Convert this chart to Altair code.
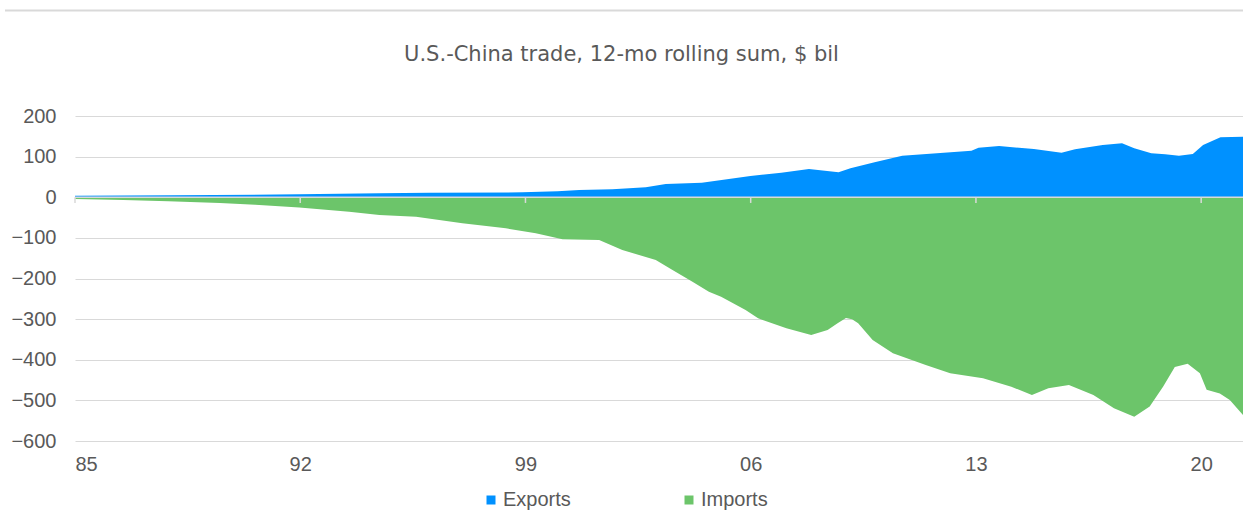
import altair as alt
import pandas as pd

TITLE = "U.S.-China trade, 12-mo rolling sum, $ bil"
SERIES = ["Exports", "Imports"]
BLUE = "#0091FF"
GREEN = "#6CC56A"
TEXT = "#595959"
GRID = "#D9D9D9"

# 12-month rolling sums, $ bil (decimal year on the axis scale)
export_t = [1985.0, 1988.0, 1991.97, 1994.46, 1996.0, 1998.91, 2000.0, 2000.67,
            2001.7, 2002.74, 2003.36, 2004.48, 2005.99, 2006.95, 2007.81, 2008.73,
            2009.1, 2009.85, 2010.71, 2012.0, 2012.86, 2013.08, 2013.72, 2014.8,
            2015.66, 2016.08, 2016.94, 2017.54, 2017.92, 2018.45, 2018.88, 2019.31,
            2019.74, 2020.06, 2020.6, 2021.3]
export_v = [3.8, 5.0, 7.2, 9.7, 11.0, 12.1, 15.0, 17.8,
            20.0, 24.5, 32.6, 35.9, 52.3, 60.5, 69.5, 61.3,
            71.2, 86.0, 102.3, 109.7, 114.6, 122.0, 126.1, 118.8,
            109.7, 118.0, 128.6, 132.8, 120.5, 108.2, 105.7, 102.3,
            106.5, 128.6, 147.5, 149.0]

import_t = [1985.0, 1986.5, 1987.9, 1989.5, 1990.6, 1991.97, 1993.52, 1994.46,
            1995.6, 1997.04, 1998.39, 1999.32, 2000.15, 2001.29, 2002.01, 2003.05,
            2003.57, 2004.19, 2004.7, 2005.08, 2005.84, 2006.23, 2007.11, 2007.88,
            2008.39, 2008.7, 2008.96, 2009.15, 2009.34, 2009.79, 2010.42, 2011.44,
            2012.2, 2013.22, 2014.1, 2014.74, 2015.25, 2015.89, 2016.65, 2017.29,
            2017.92, 2018.4, 2018.82, 2019.18, 2019.58, 2019.96, 2020.17, 2020.58,
            2020.89, 2021.3]
import_v = [-4.0, -6.5, -10.0, -14.0, -18.5, -25.5, -35.5, -43.7,
            -47.8, -64.2, -76.5, -88.8, -103.5, -105.2, -129.8, -154.5,
            -179.0, -208.0, -232.4, -244.8, -277.5, -298.0, -322.6, -339.0,
            -326.8, -310.0, -297.0, -300.0, -310.0, -351.4, -384.0, -412.9,
            -433.4, -445.7, -466.3, -486.8, -470.3, -462.2, -486.8, -519.5,
            -540.0, -515.0, -466.0, -418.0, -410.0, -433.0, -474.0, -483.0,
            -499.0, -536.0]

x_ticks = [1985, 1992, 1999, 2006, 2013, 2020]
y_ticks = [-600, -500, -400, -300, -200, -100, 0, 100, 200]

W, H = 1168, 325

trade = pd.concat([
    pd.DataFrame({"t": export_t, "value": export_v, "series": SERIES[0]}),
    pd.DataFrame({"t": import_t, "value": import_v, "series": SERIES[1]}),
], ignore_index=True)

x_scale = alt.Scale(domain=[1985, 2021.3], nice=False, zero=False)
y_scale = alt.Scale(domain=[-600, 200], nice=False)

areas = alt.Chart(trade).mark_area(opacity=1, interpolate="linear").encode(
    x=alt.X("t:Q", scale=x_scale,
            axis=alt.Axis(values=x_ticks, title=None, grid=False, ticks=False,
                          domain=False, labelPadding=13,
                          labelExpr="substring(toString(datum.value), 2)")),
    y=alt.Y("value:Q", stack=None, scale=y_scale,
            axis=alt.Axis(values=y_ticks, title=None, grid=True, ticks=False,
                          domain=False, labelPadding=19)),
    color=alt.Color("series:N",
                    scale=alt.Scale(domain=SERIES, range=[BLUE, GREEN]),
                    legend=alt.Legend(title=None, orient="none", legendX=406,
                                      legendY=374, direction="horizontal",
                                      symbolType="square", symbolSize=81,
                                      symbolStrokeWidth=0, symbolOpacity=1,
                                      labelFont="Liberation Sans",
                                      labelFontSize=20, labelColor=TEXT,
                                      labelOffset=2, columnPadding=108)),
)

# horizontal axis line at zero with its tick marks
zero_line = alt.Chart(pd.DataFrame({"k": [0]})).mark_rule(
    color=GRID, strokeWidth=1.5
).encode(y=alt.datum(0), x=alt.value(0), x2=alt.value(W))

zero_ticks = alt.Chart(pd.DataFrame({"t": x_ticks})).mark_rule(
    color=GRID, strokeWidth=1.5
).encode(x=alt.X("t:Q", scale=x_scale), y=alt.datum(0), y2=alt.datum(-14))

# frame line across the top of the figure
top_line = alt.Chart(pd.DataFrame({"k": [0]})).mark_rule(
    color=GRID, strokeWidth=2
).encode(y=alt.value(-105.5), x=alt.value(-70), x2=alt.value(W))

title = alt.Chart(pd.DataFrame({"label": [TITLE]})).mark_text(
    font="DejaVu Sans", fontSize=21, color=TEXT, align="center",
    baseline="alphabetic"
).encode(text="label:N", x=alt.value(546.5), y=alt.value(-55))

chart = alt.layer(areas, zero_line, zero_ticks, top_line, title).properties(
    width=W, height=H,
    autosize=alt.AutoSizeParams(type="none"),
    padding={"left": 75, "top": 116, "right": 0, "bottom": 71},
).configure_view(stroke=None).configure_axis(
    labelFont="Liberation Sans", labelFontSize=20, labelColor=TEXT,
    gridColor=GRID, gridWidth=1,
)

chart.save("out.html", embed_options={"renderer": "svg", "actions": False})
